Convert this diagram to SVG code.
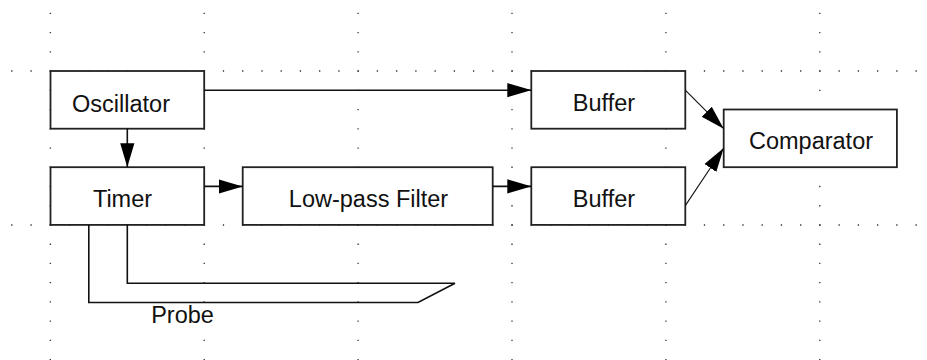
<svg xmlns="http://www.w3.org/2000/svg" width="927" height="360" viewBox="0 0 927 360">
  <style>
    .grid { stroke: #333; stroke-width: 1.3; stroke-dasharray: 1.3 17.94; fill: none; }
    .box { fill: #fff; stroke: #222; stroke-width: 1.8; }
    .lbl { font-family: "Liberation Sans", Arial, sans-serif; font-size: 23.5px; fill: #111; text-anchor: middle; }
    .wire { fill: none; stroke: #111; stroke-width: 1.6; }
    .thin { fill: none; stroke: #111; stroke-width: 1.1; }
  </style>
  <defs>
    <marker id="head" markerUnits="userSpaceOnUse" markerWidth="24" markerHeight="16" viewBox="0 0 22 14" refX="22" refY="7" orient="auto">
      <path d="M0,0.5 L22,7 L0,13.5 z" fill="#000"/>
    </marker>
  </defs>
  <rect width="927" height="360" fill="#fff"/>

  <!-- dotted background grid -->
  <g id="grid">
    <line class="grid" x1="11.2" y1="71" x2="927" y2="71"/>
    <line class="grid" x1="11.2" y1="225" x2="927" y2="225"/>
    <line class="grid" x1="50.3" y1="12.7" x2="50.3" y2="360"/>
    <line class="grid" x1="204.2" y1="12.7" x2="204.2" y2="360"/>
    <line class="grid" x1="358.1" y1="12.7" x2="358.1" y2="360"/>
    <line class="grid" x1="512" y1="12.7" x2="512" y2="360"/>
    <line class="grid" x1="665.9" y1="12.7" x2="665.9" y2="360"/>
    <line class="grid" x1="819.8" y1="12.7" x2="819.8" y2="360"/>
  </g>

  <g id="oscillator">
    <rect class="box" x="50.5" y="71" width="153.7" height="57.7"/>
    <text class="lbl" x="121" y="111.5">Oscillator</text>
  </g>
  <g id="timer">
    <rect class="box" x="50.5" y="167.2" width="153.7" height="57.7"/>
    <text class="lbl" x="122.5" y="207">Timer</text>
  </g>
  <g id="lowpass">
    <rect class="box" x="242.7" y="167.2" width="250" height="57.7"/>
    <text class="lbl" x="368.5" y="207">Low-pass Filter</text>
  </g>
  <g id="buffer1">
    <rect class="box" x="531.3" y="71" width="154" height="57.7"/>
    <text class="lbl" x="604" y="111">Buffer</text>
  </g>
  <g id="buffer2">
    <rect class="box" x="531.3" y="167.2" width="154" height="57.7"/>
    <text class="lbl" x="604" y="207">Buffer</text>
  </g>
  <g id="comparator">
    <rect class="box" x="723.7" y="109.5" width="173.2" height="57.7"/>
    <text class="lbl" x="811" y="149">Comparator</text>
  </g>
  <g id="probe">
    <text class="lbl" x="182.5" y="323">Probe</text>
  </g>

  <g id="connectors">
    <line class="wire" x1="204.2" y1="90.2" x2="531.3" y2="90.2" marker-end="url(#head)"/>
    <line class="wire" x1="127.3" y1="128.7" x2="127.3" y2="167.2" marker-end="url(#head)"/>
    <line class="wire" x1="204.2" y1="186.4" x2="242.7" y2="186.4" marker-end="url(#head)"/>
    <line class="wire" x1="492.7" y1="186.4" x2="531.3" y2="186.4" marker-end="url(#head)"/>
    <line class="thin" x1="685.3" y1="90.2" x2="723.7" y2="128.7" marker-end="url(#head)"/>
    <line class="thin" x1="685.3" y1="205.6" x2="723.7" y2="148" marker-end="url(#head)"/>
    <polyline class="wire" points="88.8,224.9 88.8,302.5 418,302.5 455,283.2 127.3,283.2 127.3,224.9"/>
  </g>
</svg>
